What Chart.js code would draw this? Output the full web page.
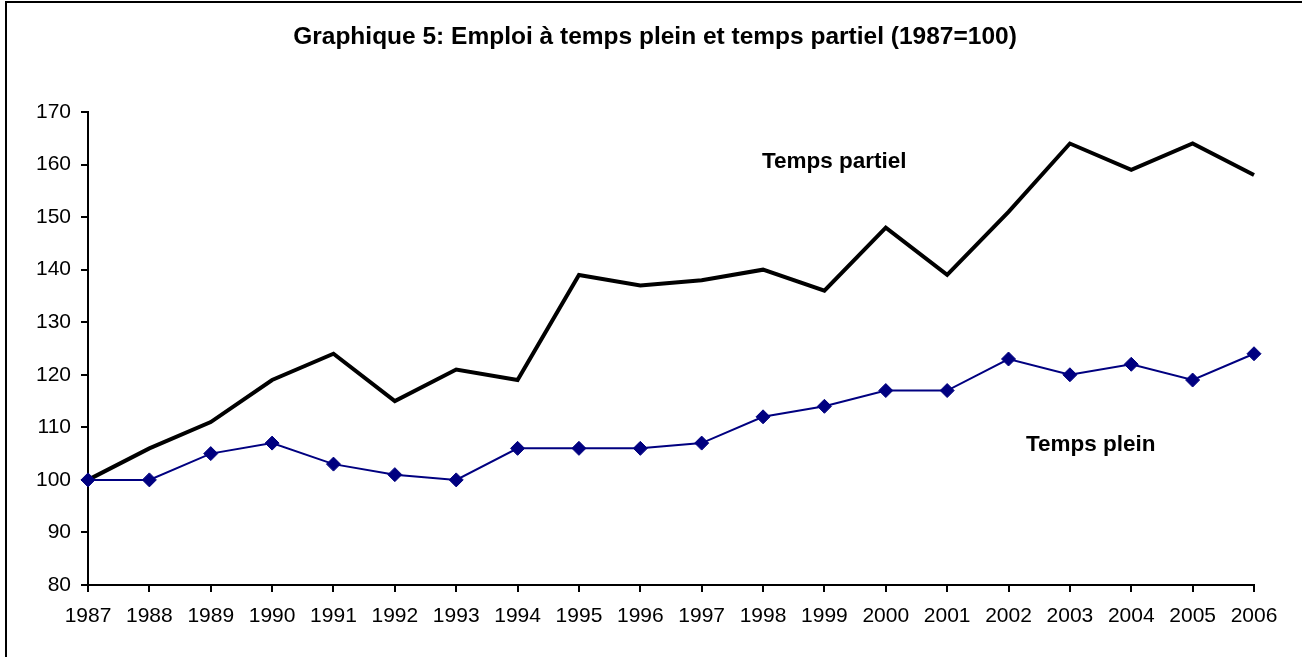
<!DOCTYPE html>
<html>
<head>
<meta charset="utf-8">
<script src="https://cdn.jsdelivr.net/npm/chart.js@4"></script>
<style>
  html, body { margin: 0; padding: 0; background: #fff; overflow: hidden; }
  .frame { position: absolute; left: 5px; top: 1px; width: 1400px; height: 800px; border-left: 2px solid #000; border-top: 2px solid #000; }
  canvas { position: absolute; left: 0; top: 0; }
</style>
</head>
<body>
<div class="frame"></div>
<canvas id="chart" width="1302" height="657"></canvas>
<script>
// years on the x axis
const years = ['1987','1988','1989','1990','1991','1992','1993','1994','1995','1996',
               '1997','1998','1999','2000','2001','2002','2003','2004','2005','2006'];
// index values (1987=100)
const tempsPartiel = [100,106,111,119,124,115,121,119,139,137,138,140,136,148,139,151,164,159,164,158];
const tempsPlein   = [100,100,105,107,103,101,100,106,106,106,107,112,114,117,117,123,120,122,119,124];
const yMin = 80, yMax = 170, yStep = 10;

const font = "'Liberation Sans', Arial, sans-serif";
const titleText = 'Graphique 5: Emploi à temps plein et temps partiel (1987=100)';

// series names written inside the plot, anchored on the scales
const seriesLabels = [
    { text: 'Temps partiel', at: 12.16, value: 160.6 },
    { text: 'Temps plein',   at: 16.34, value: 106.6 }
];

const labelPlugin = {
    id: 'seriesLabels',
    afterDatasetsDraw(chart) {
        const ctx = chart.ctx;
        const xs = chart.scales.x, ys = chart.scales.y;
        ctx.save();
        ctx.fillStyle = '#000';
        ctx.textAlign = 'center';
        ctx.textBaseline = 'middle';
        // title sits a bit left of the plot centre, like the original
        ctx.font = 'bold 24.5px ' + font;
        ctx.fillText(titleText, (chart.chartArea.left + chart.chartArea.right) / 2 - 16, 37);
        ctx.font = 'bold 22.5px ' + font;
        seriesLabels.forEach(l => ctx.fillText(l.text, xs.getPixelForValue(l.at), ys.getPixelForValue(l.value)));
        ctx.restore();
    }
};

new Chart(document.getElementById('chart'), {
    type: 'line',
    data: {
        labels: years,
        datasets: [
            {
                label: 'Temps plein',
                data: tempsPlein,
                borderColor: '#000080',
                backgroundColor: '#000080',
                borderWidth: 2,
                pointStyle: 'rectRot',
                pointRadius: 7,
                pointBorderWidth: 1,
                tension: 0,
                order: 0
            },
            {
                label: 'Temps partiel',
                data: tempsPartiel,
                borderColor: '#000',
                borderWidth: 4,
                pointRadius: 0,
                tension: 0,
                order: 1
            }
        ]
    },
    options: {
        responsive: false,
        animation: false,
        layout: { padding: { left: 0, right: 48, top: 112, bottom: 0 } },
        plugins: {
            legend: { display: false },
            tooltip: { enabled: false },
            title: { display: false }
        },
        scales: {
            x: {
                offset: false,
                grid: { display: true, drawOnChartArea: false, drawTicks: true, tickLength: 7, color: '#000', lineWidth: 2 },
                border: { display: true, color: '#000', width: 2 },
                ticks: { color: '#000', font: { family: font, size: 21 }, padding: 12, maxRotation: 0, autoSkip: false },
                afterFit: s => { s.height = 72; }
            },
            y: {
                min: yMin,
                max: yMax,
                grid: { display: true, drawOnChartArea: false, drawTicks: true, tickLength: 7, color: '#000', lineWidth: 2 },
                border: { display: true, color: '#000', width: 2 },
                ticks: { stepSize: yStep, color: '#000', font: { family: font, size: 21 }, padding: 10 },
                afterFit: s => { s.width = 88; }
            }
        }
    },
    plugins: [labelPlugin]
});
</script>
</body>
</html>
